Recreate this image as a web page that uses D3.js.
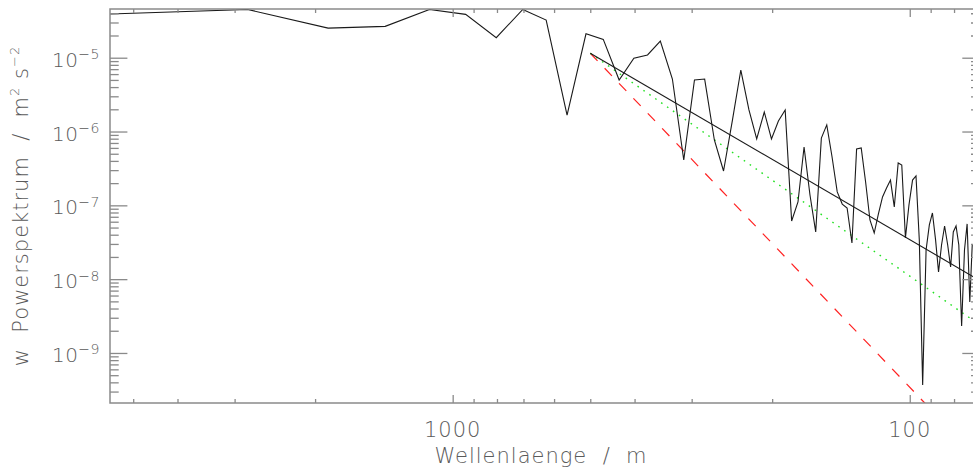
<!DOCTYPE html>
<html>
<head>
<meta charset="utf-8">
<script src="https://cdn.jsdelivr.net/npm/d3@7"></script>
<style>
  html, body { margin: 0; padding: 0; background: #fff; overflow: hidden; }
  svg { display: block; }
  text { font-family: "DejaVu Sans", sans-serif; font-weight: 200; fill: #5a5a5a; }
</style>
</head>
<body>
<svg id="chart" width="973" height="474"></svg>
<script>
// ---------------- data ----------------
const wavelength = [5620, 2810, 1873, 1405, 1124, 936.7, 802.9, 702.5, 624.4, 562,
  510.9, 468.3, 432.3, 401.4, 374.7, 351.3, 330.6, 312.2, 295.8, 281,
  267.6, 255.5, 244.3, 234.2, 224.8, 216.2, 208.1, 200.7, 193.8, 187.3,
  181.3, 175.6, 170.3, 165.3, 160.6, 156.1, 151.9, 147.9, 144.1, 140.5,
  137.1, 133.8, 130.7, 127.7, 124.9, 122.2, 119.6, 117.1, 114.7, 112.4,
  110.2, 108.1, 106.0, 104.1, 102.2, 100.4, 98.6, 96.9, 95.3, 93.7,
  92.1, 90.6, 89.2, 87.8, 86.5, 85.2, 83.9, 82.6, 81.4, 80.3,
  79.2, 78.1, 77.0, 75.9, 74.9, 73.9, 73.0];
const power = [3.91e-5, 4.50e-5, 2.52e-5, 2.66e-5, 4.50e-5, 3.87e-5, 1.87e-5, 4.50e-5, 3.24e-5, 1.67e-6,
  2.11e-5, 1.77e-5, 4.99e-6, 9.82e-6, 1.09e-5, 1.68e-5, 5.14e-6, 4.11e-7, 4.99e-6, 5.14e-6,
  7.68e-7, 2.92e-7, 1.43e-6, 6.81e-6, 1.96e-6, 7.92e-7, 1.84e-6, 7.92e-7, 1.39e-6, 1.96e-6,
  6.14e-8, 1.11e-7, 6.17e-7, 1.38e-7, 4.36e-8, 8.17e-7, 1.23e-6, 4.52e-7, 1.52e-7, 1.04e-7,
  9.21e-8, 3.09e-8, 5.80e-7, 5.98e-7, 2.07e-7, 6.34e-8, 4.22e-8, 7.64e-8, 1.30e-7, 1.72e-7,
  2.20e-7, 9.51e-8, 3.75e-7, 3.52e-7, 3.61e-8, 1.01e-7, 2.20e-7, 2.50e-7, 3.40e-8, 3.69e-10,
  2.48e-8, 5.42e-8, 7.88e-8, 3.40e-8, 1.25e-8, 2.90e-8, 5.25e-8, 2.90e-8, 1.46e-8, 4.36e-8,
  5.25e-8, 2.90e-8, 2.32e-9, 2.48e-8, 5.60e-8, 4.91e-9, 2.90e-8];

// fitted power laws (start / end of each straight line)
const fitWavelength = [500, 70.3];
const fitSolid  = [1.15e-5, 9.6e-9];
const fitDotted = [1.15e-5, 2.4e-9];
const fitDashed = [1.15e-5, 3.5e-11];

const xDomain = [5620, 70.3];
const yDomain = [2.10e-10, 4.57e-5];
const xMajorTicks = [1000, 100];
const xMinorTicks = [5000, 4000, 3000, 2000, 900, 800, 700, 600, 500, 400, 300, 200, 90, 80, 70];
const yMajorTicks = [1e-5, 1e-6, 1e-7, 1e-8, 1e-9];
const yMajorExp = ["−5", "−6", "−7", "−8", "−9"];
const yMinorTicks = [3e-10, 4e-10, 5e-10, 6e-10, 7e-10, 8e-10, 9e-10,
  2e-9, 3e-9, 4e-9, 5e-9, 6e-9, 7e-9, 8e-9, 9e-9,
  2e-8, 3e-8, 4e-8, 5e-8, 6e-8, 7e-8, 8e-8, 9e-8,
  2e-7, 3e-7, 4e-7, 5e-7, 6e-7, 7e-7, 8e-7, 9e-7,
  2e-6, 3e-6, 4e-6, 5e-6, 6e-6, 7e-6, 8e-6, 9e-6,
  2e-5, 3e-5, 4e-5];
const xTitle = "Wellenlaenge  /  m";

// ---------------- layout ----------------
const L = 110, R = 979.7, T = 9, B = 403;
const axisColor = "#8a8a8a";
const svg = d3.select("#chart");

const x = d3.scaleLog().domain(xDomain).range([L, R]);
const y = d3.scaleLog().domain(yDomain).range([B, T]);

svg.append("defs").append("clipPath").attr("id", "clip")
  .append("rect").attr("x", L).attr("y", T).attr("width", R - L).attr("height", B - T);

const plot = svg.append("g").attr("clip-path", "url(#clip)");

// fit lines
const fitLine = d3.line().x(d => x(d[0])).y(d => y(d[1]));
plot.append("path").datum(d3.zip(fitWavelength, fitDashed)).attr("d", fitLine)
  .attr("fill", "none").attr("stroke", "#ff2020").attr("stroke-width", 1.2).attr("stroke-dasharray", "10.5,10.3");
plot.append("path").datum(d3.zip(fitWavelength, fitDotted)).attr("d", fitLine)
  .attr("fill", "none").attr("stroke", "#22e022").attr("stroke-width", 1.4).attr("stroke-dasharray", "1.6,5.6");
plot.append("path").datum(d3.zip(fitWavelength, fitSolid)).attr("d", fitLine)
  .attr("fill", "none").attr("stroke", "#1a1a1a").attr("stroke-width", 1.1);

// data
const line = d3.line().x((d, i) => x(wavelength[i])).y(d => y(d));
plot.append("path").datum(power).attr("d", line)
  .attr("fill", "none").attr("stroke", "#1a1a1a").attr("stroke-width", 1.1).attr("stroke-linejoin", "miter");

// ---------------- axes ----------------
function styleAxis(g) {
  g.select(".domain").remove();
  g.selectAll("line").attr("stroke", axisColor).attr("stroke-width", 1.3);
  g.selectAll("text").remove();
}
const xMajLen = 8, xMinLen = 4, yMajLen = 17.4, yMinLen = 8.7;
svg.append("g").attr("transform", `translate(0,${B})`)
  .call(d3.axisTop(x).tickValues(xMajorTicks).tickSize(xMajLen)).call(styleAxis);
svg.append("g").attr("transform", `translate(0,${B})`)
  .call(d3.axisTop(x).tickValues(xMinorTicks).tickSize(xMinLen)).call(styleAxis);
svg.append("g").attr("transform", `translate(0,${T})`)
  .call(d3.axisBottom(x).tickValues(xMajorTicks).tickSize(xMajLen)).call(styleAxis);
svg.append("g").attr("transform", `translate(0,${T})`)
  .call(d3.axisBottom(x).tickValues(xMinorTicks).tickSize(xMinLen)).call(styleAxis);
svg.append("g").attr("transform", `translate(${L},0)`)
  .call(d3.axisRight(y).tickValues(yMajorTicks).tickSize(yMajLen)).call(styleAxis);
svg.append("g").attr("transform", `translate(${L},0)`)
  .call(d3.axisRight(y).tickValues(yMinorTicks).tickSize(yMinLen)).call(styleAxis);
svg.append("g").attr("transform", `translate(${R},0)`)
  .call(d3.axisLeft(y).tickValues(yMajorTicks).tickSize(yMajLen)).call(styleAxis);
svg.append("g").attr("transform", `translate(${R},0)`)
  .call(d3.axisLeft(y).tickValues(yMinorTicks).tickSize(yMinLen)).call(styleAxis);

svg.append("rect").attr("x", L).attr("y", T).attr("width", R - L).attr("height", B - T)
  .attr("fill", "none").attr("stroke", axisColor).attr("stroke-width", 1.5);

// x tick labels
svg.selectAll(".xlab").data(xMajorTicks).enter().append("text")
  .attr("x", d => x(d)).attr("y", 437).attr("text-anchor", "middle")
  .attr("font-size", 21).attr("letter-spacing", 1).text(d => d3.format("d")(d));

// y tick labels
yMajorTicks.forEach((v, i) => {
  const t = svg.append("text").attr("x", 100).attr("y", y(v) + 9)
    .attr("text-anchor", "end").attr("font-size", 20).attr("letter-spacing", 0.5);
  t.append("tspan").text("10");
  t.append("tspan").attr("dy", -7.5).attr("font-size", 14).text(yMajorExp[i]);
});

// axis titles
svg.append("text").attr("x", (L + 972) / 2).attr("y", 463).attr("text-anchor", "middle")
  .attr("font-size", 21).attr("letter-spacing", 1).attr("xml:space", "preserve").text(xTitle);

const yt = svg.append("text").attr("transform", `translate(28,${(T + B) / 2}) rotate(-90)`)
  .attr("text-anchor", "middle").attr("font-size", 21).attr("letter-spacing", 1)
  .attr("xml:space", "preserve");
yt.append("tspan").text("w  Powerspektrum  /  m");
yt.append("tspan").attr("dy", -9).attr("font-size", 13).text("2");
yt.append("tspan").attr("dy", 9).text(" s");
yt.append("tspan").attr("dy", -9).attr("font-size", 13).text("−2");
</script>
</body>
</html>
